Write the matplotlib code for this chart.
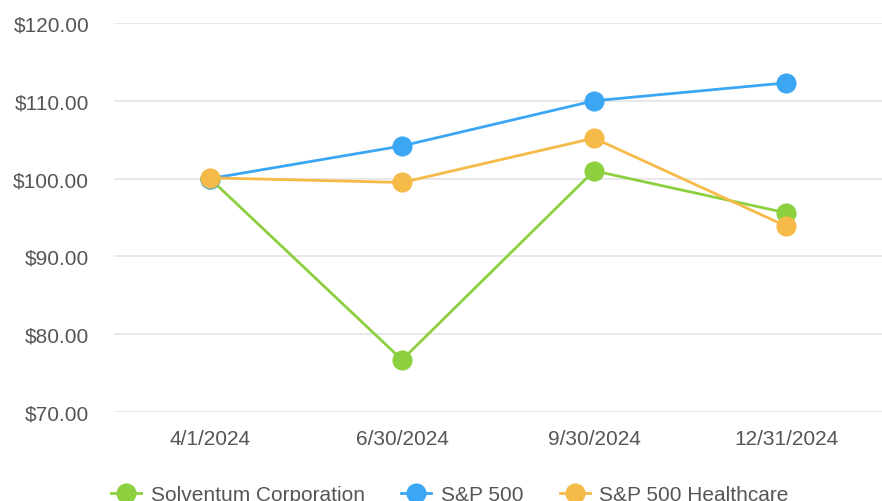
import matplotlib.pyplot as plt
import numpy as np

plt.rcParams['font.family'] = ['Liberation Sans', 'DejaVu Sans']

dates = ['4/1/2024', '6/30/2024', '9/30/2024', '12/31/2024']
solventum = [100.0, 76.7, 101.0, 95.6]
sp500 = [100.0, 104.2, 110.0, 112.3]
sp500_health = [100.1, 99.5, 105.2, 93.9]
y_ticks = [70, 80, 90, 100, 110, 120]

series = [
    ('Solventum Corporation', solventum, '#8dd03f'),
    ('S&P 500', sp500, '#3ba7f4'),
    ('S&P 500 Healthcare', sp500_health, '#f5ba48'),
]

fig = plt.figure(figsize=(8.82, 5.02), dpi=100)
ax = fig.add_axes([0.1293, 0.1773, 0.8707, 0.7749])

x = np.arange(len(dates))
for name, vals, color in series:
    ax.plot(x, vals, color=color, linewidth=2.0, marker='o', markersize=13.5,
            label=name, zorder=3)

ax.set_xlim(-0.5, 3.5)
ax.set_ylim(70, 120)
ax.set_yticks(y_ticks)
ax.set_yticklabels([f'${v:.2f}' for v in y_ticks])
ax.set_xticks(x)
ax.set_xticklabels(dates)
ax.grid(axis='y', color='#e6e6e6', linewidth=1.3)
ax.set_axisbelow(True)
for s in ax.spines.values():
    s.set_visible(False)
ax.tick_params(axis='both', length=0, labelsize=15, labelcolor='#555555')
ax.tick_params(axis='y', pad=18)
ax.tick_params(axis='x', pad=12)

fig.legend(loc='center left', bbox_to_anchor=(0.126, 0.012), ncol=3, frameon=False,
           fontsize=15, labelcolor='#555555', handlelength=1.45, handletextpad=0.45,
           columnspacing=1.75, borderaxespad=0, borderpad=0)

fig.savefig('out.png', dpi=100)
